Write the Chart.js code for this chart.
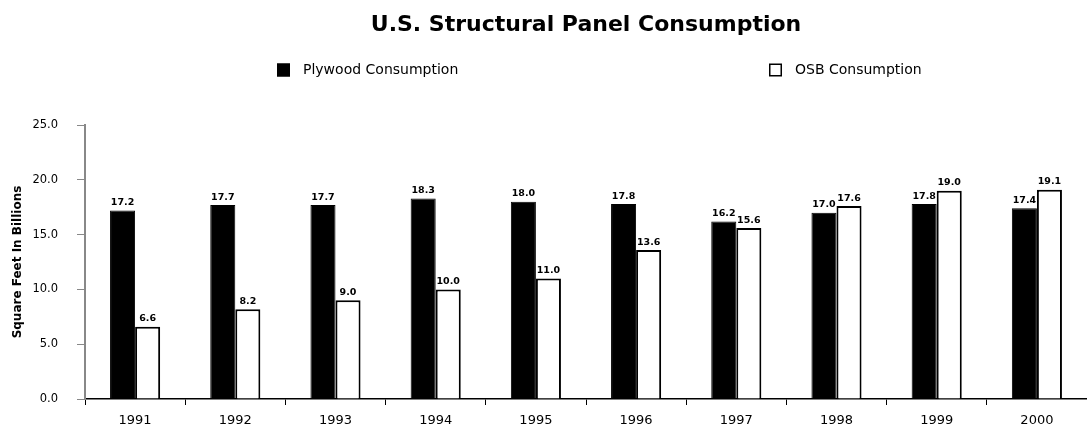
<!DOCTYPE html>
<html>
<head>
<meta charset="utf-8">
<script src="https://cdn.jsdelivr.net/npm/chart.js@4"></script>
<style>
  html, body { margin: 0; padding: 0; background: #fff; }
  #wrap { width: 1087px; height: 432px; position: relative; }
</style>
</head>
<body>
<div id="wrap"><canvas id="chart"></canvas></div>
<script>
const years = ['1991', '1992', '1993', '1994', '1995', '1996', '1997', '1998', '1999', '2000'];
const plywood = [17.2, 17.7, 17.7, 18.3, 18.0, 17.8, 16.2, 17.0, 17.8, 17.4];
const osb = [6.6, 8.2, 9.0, 10.0, 11.0, 13.6, 15.6, 17.6, 19.0, 19.1];
const seriesNames = ['Plywood Consumption', 'OSB Consumption'];

const FONT = "'DejaVu Sans', sans-serif";

// value labels above each bar
const barLabels = {
  id: 'barLabels',
  afterDatasetsDraw(chart) {
    const ctx = chart.ctx;
    ctx.save();
    ctx.font = 'bold 9.5px ' + FONT;
    ctx.fillStyle = '#000';
    ctx.textAlign = 'center';
    ctx.textBaseline = 'bottom';
    chart.data.datasets.forEach((ds, i) => {
      chart.getDatasetMeta(i).data.forEach((bar, j) => {
        ctx.fillText(ds.data[j].toFixed(1), bar.x, bar.y - 3);
      });
    });
    ctx.restore();
  }
};

// two legend items spread apart like the original
const spreadLegend = {
  id: 'spreadLegend',
  afterDraw(chart) {
    const ctx = chart.ctx;
    const mid = (chart.chartArea.left + chart.chartArea.right) / 2;
    const starts = [mid - 309, mid + 183];
    const y = 70;
    ctx.save();
    ctx.font = '14px ' + FONT;
    ctx.textBaseline = 'middle';
    ctx.textAlign = 'left';
    chart.data.datasets.forEach((ds, i) => {
      const x = starts[i];
      ctx.fillStyle = ds.backgroundColor;
      ctx.fillRect(x, y - 6.5, 13, 13);
      ctx.strokeStyle = '#000';
      ctx.lineWidth = 1.5;
      ctx.strokeRect(x + 0.75, y - 5.75, 11.5, 11.5);
      ctx.fillStyle = '#000';
      ctx.fillText(ds.label, x + 26, y);
    });
    ctx.restore();
  }
};

new Chart(document.getElementById('chart'), {
  type: 'bar',
  data: {
    labels: years,
    datasets: [
      {
        label: seriesNames[0],
        data: plywood,
        backgroundColor: '#000',
        borderColor: '#000',
        borderWidth: 1,
        categoryPercentage: 0.5,
        barPercentage: 1.0
      },
      {
        label: seriesNames[1],
        data: osb,
        backgroundColor: '#fff',
        borderColor: '#000',
        borderWidth: 2,
        categoryPercentage: 0.5,
        barPercentage: 1.0
      }
    ]
  },
  options: {
    responsive: true,
    maintainAspectRatio: false,
    animation: false,
    layout: { padding: { top: 0, right: 0, bottom: 0, left: 0 } },
    plugins: {
      legend: { display: false },
      tooltip: { enabled: false },
      title: {
        display: true,
        fullSize: false,
        text: 'U.S. Structural Panel Consumption',
        color: '#000',
        font: { family: FONT, size: 22, weight: 'bold' },
        padding: { top: 12, bottom: 86.6 }
      }
    },
    scales: {
      x: {
        afterFit(s) { s.height = 33; },
        grid: {
          display: true,
          drawOnChartArea: false,
          drawTicks: true,
          tickLength: 6,
          color: '#000',
          offset: true
        },
        border: { display: true, color: '#000', width: 1.5 },
        ticks: {
          color: '#000',
          font: { family: FONT, size: 13 },
          padding: 8,
          maxRotation: 0
        }
      },
      y: {
        min: 0,
        max: 25,
        afterFit(s) { s.width = 85; },
        grid: {
          display: true,
          drawOnChartArea: false,
          drawTicks: true,
          tickLength: 8,
          color: '#888'
        },
        border: { display: true, color: '#888', width: 2 },
        ticks: {
          stepSize: 5,
          color: '#000',
          padding: 19,
          font: { family: FONT, size: 11.5 },
          callback: (v) => Number(v).toFixed(1)
        },
        title: {
          display: true,
          text: 'Square Feet In Billions',
          color: '#000',
          font: { family: FONT, size: 12, weight: 'bold' },
          padding: { top: 11, bottom: 0 }
        }
      }
    }
  },
  plugins: [barLabels, spreadLegend]
});
</script>
</body>
</html>
